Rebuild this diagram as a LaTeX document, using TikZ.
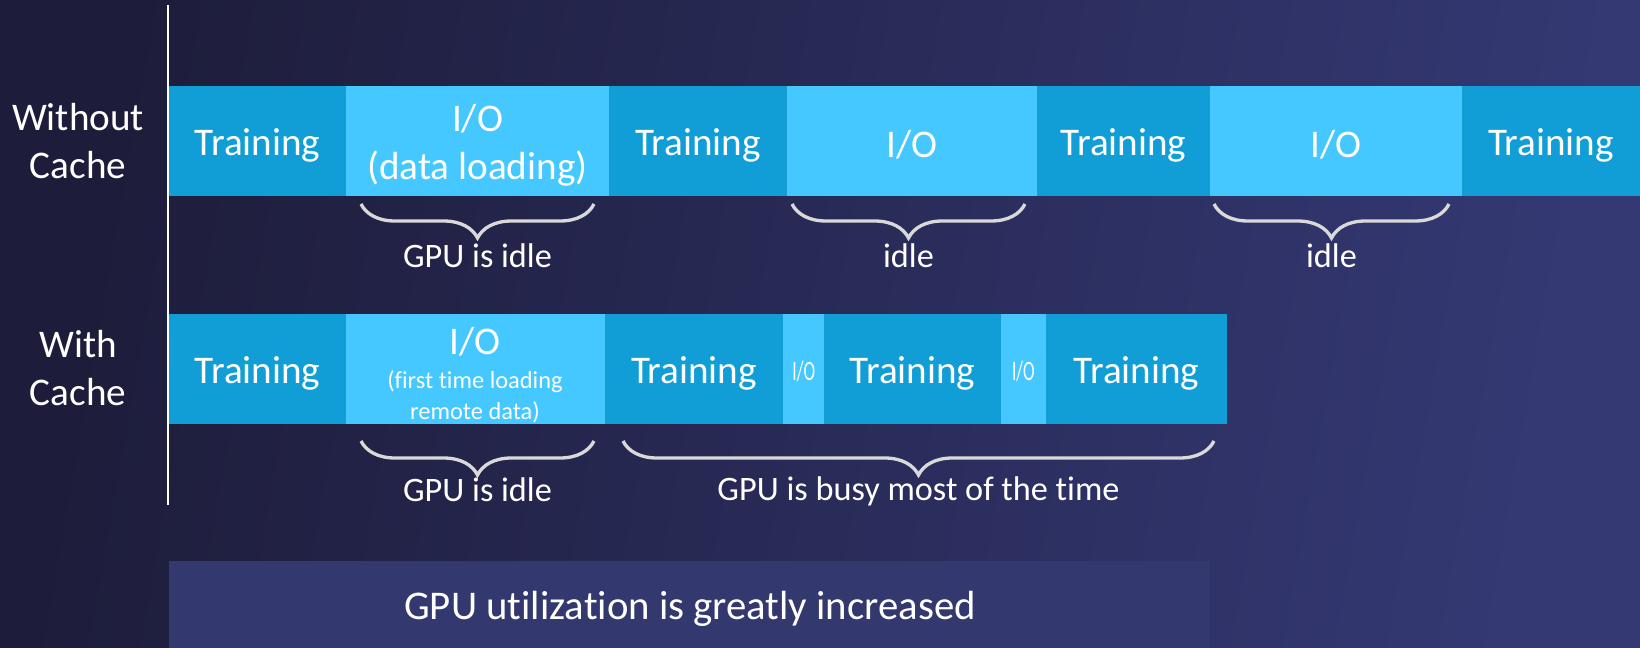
\documentclass[tikz,border=0pt]{standalone}
\usepackage{fontspec}
\setmainfont{Carlito}[Ligatures=NoCommon]
\usetikzlibrary{decorations.pathreplacing}
\definecolor{bgleft}{RGB}{29,28,58}
\definecolor{bgright}{RGB}{52,57,116}
\definecolor{trainblue}{RGB}{17,158,214}
\definecolor{ioblue}{RGB}{69,200,255}
\definecolor{notebox}{RGB}{51,56,111}
\definecolor{bracegray}{RGB}{217,217,217}

\begin{document}
\begin{tikzpicture}[x=0.02cm,y=-0.02cm,
  train/.style={fill=trainblue},
  io/.style={fill=ioblue},
  lbl/.style={text=white,font=\fontsize{22.3}{27.3}\selectfont,align=center,inner sep=0pt},
  sublbl/.style={text=white,font=\fontsize{13.9}{17.4}\selectfont,align=center,inner sep=0pt},
  tinylbl/.style={text=white,font=\fontsize{16}{18}\selectfont,inner sep=0pt},
  notelbl/.style={text=white,font=\fontsize{19.5}{23}\selectfont,inner sep=0pt},
  gap/.style={draw=bracegray,line width=1.9pt,decorate,decoration={brace,mirror,amplitude=0.68cm}}]
\useasboundingbox (0,0) rectangle (1640,648);
\shade[left color=bgleft,right color=bgright,shading angle=80] (0,0) rectangle (1640,648);
\draw[white,line width=1.1pt] (168,5) -- (168,505);

\node[lbl] (without) at (78,141) {Without\\Cache};
\node[lbl] (with) at (78,368) {With\\Cache};

\fill[train] (169,86) rectangle (346,196);
\fill[io] (346,86) rectangle (609,196);
\fill[train] (609,86) rectangle (787,196);
\fill[io] (787,86) rectangle (1037,196);
\fill[train] (1037,86) rectangle (1210,196);
\fill[io] (1210,86) rectangle (1462,196);
\fill[train] (1462,86) rectangle (1640,196);
\node[lbl] (a1) at (257.5,145) {Training};
\node[lbl] (a2) at (477.5,145) {I/O\\(data loading)};
\node[lbl] (a3) at (698,145) {Training};
\node[lbl] (a4) at (912,145) {I/O};
\node[lbl] (a5) at (1123.5,145) {Training};
\node[lbl] (a6) at (1336,145) {I/O};
\node[lbl] (a7) at (1551,145) {Training};

\draw[gap] (361,204) -- (594,204);
\draw[gap] (792,204) -- (1025,204);
\draw[gap] (1214,204) -- (1449,204);
\node[notelbl] (idle1) at (477.5,256) {GPU is idle};
\node[notelbl] (idle2) at (908.5,256) {idle};
\node[notelbl] (idle3) at (1331.5,256) {idle};

\fill[train] (169,314) rectangle (346,424);
\fill[io] (346,314) rectangle (604.5,424);
\fill[train] (604.5,314) rectangle (783.4,424);
\fill[io] (783.4,314) rectangle (824.2,424);
\fill[train] (824.2,314) rectangle (1000.9,424);
\fill[io] (1000.9,314) rectangle (1045.9,424);
\fill[train] (1045.9,314) rectangle (1227,424);
\node[lbl] (b1) at (257.5,373) {Training};
\node[lbl] (b2) at (475,342) {I/O};
\node[sublbl] (b2sub) at (475,397) {(first time loading\\remote data)};
\node[lbl] (b3) at (694,373) {Training};
\node[tinylbl] (b4) at (803.8,371) {\scalebox{0.62}[1]{I/O}};
\node[lbl] (b5) at (912.5,373) {Training};
\node[tinylbl] (b6) at (1023.4,371) {\scalebox{0.62}[1]{I/O}};
\node[lbl] (b7) at (1136.5,373) {Training};

\draw[gap] (361,441) -- (594,441);
\draw[gap] (623,441) -- (1214,441);
\node[notelbl] (idle4) at (477.5,490) {GPU is idle};
\node[notelbl] (busy) at (918.5,491) {GPU is busy most of the time};

\fill[notebox] (169,561) rectangle (1210,648);
\node[text=white,font=\fontsize{23.2}{28}\selectfont,inner sep=0pt] (result) at (690,609) {GPU utilization is greatly increased};

\end{tikzpicture}
\end{document}
